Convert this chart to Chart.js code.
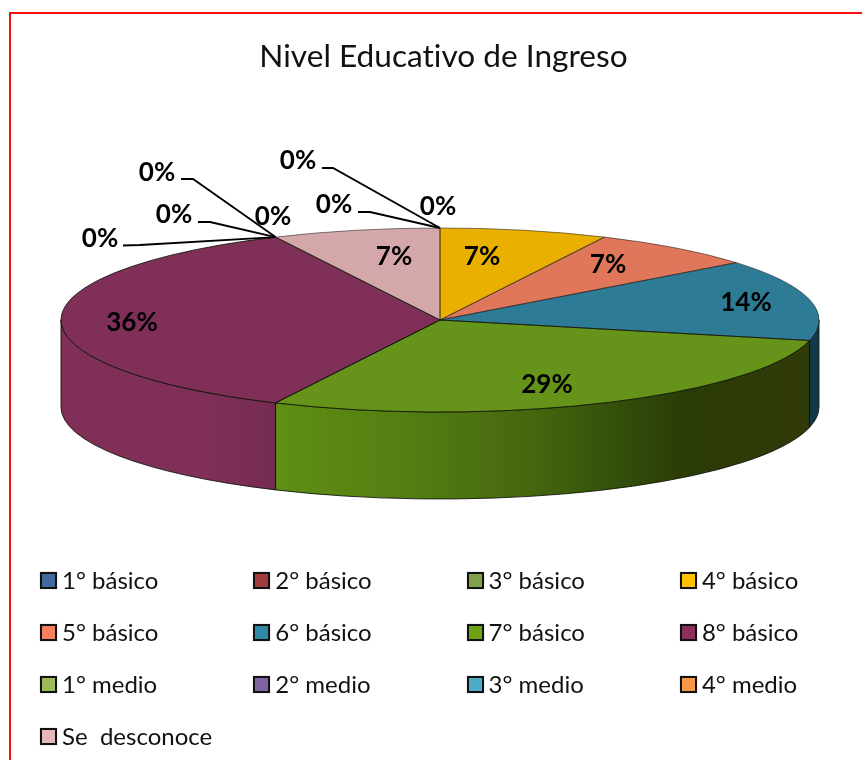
<!DOCTYPE html>
<html lang="es">
<head>
<meta charset="utf-8">
<style>
  html, body { margin: 0; padding: 0; background: #fff; width: 862px; height: 760px; overflow: hidden; }
  #wrap { position: relative; width: 862px; height: 760px; }
  #c { position: absolute; left: 0; top: 0; }
  #frameTop { position: absolute; left: 9px; top: 12px; width: 853px; height: 2px; background: #ff0d0d; }
  #frameLeft { position: absolute; left: 9px; top: 12px; width: 2px; height: 748px; background: #ff0d0d; }
  .lg { position: absolute; height: 30px; font: 24px/30px Lato, sans-serif; color: #111; white-space: pre; font-variant-ligatures: none; }
  .lg i { position: absolute; left: 0; top: 7px; width: 13px; height: 13px; border: 2px solid #111; box-shadow: 0 0 1px #999; }
  .lg span { position: absolute; left: 22px; top: 0; }
</style>
</head>
<body>
<div id="wrap">
  <canvas id="c" width="862" height="760"></canvas>
  <div id="frameTop"></div>
  <div id="frameLeft"></div>
  <div id="legend"></div>
</div>
<script src="https://cdn.jsdelivr.net/npm/chart.js@4/dist/chart.umd.min.js"></script>
<script>
const categories = ['1° básico','2° básico','3° básico','4° básico','5° básico','6° básico','7° básico','8° básico','1° medio','2° medio','3° medio','4° medio','Se  desconoce'];
const counts = [0,0,0,1,1,2,4,5,0,0,0,0,1];
const topColors = ['#3f6797','#98393a','#7c974a','#e9b000','#e0775a','#2e7b96','#66941a','#7f2f58','#98b958','#7b5fa1','#45a5c3','#f59443','#d4a8aa'];
const legendColors = ['#41699b','#9e3d3b','#80a04c','#ffc000','#f57f5f','#2f88a4','#6ea212','#8b2f5e','#9bbb59','#8064a2','#4bacc6','#f79646','#e6b9b8'];
const wallStops = {
  5: [[0,'#12394a'],[1,'#12394a']],
  6: [[0,'#5f8f14'],[0.23,'#557f12'],[0.48,'#45670f'],[0.68,'#2f4a09'],[0.76,'#2b3c06'],[1,'#303a08']],
  7: [[0,'#7f2f58'],[0.7,'#7f2f58'],[1,'#752b51']]
};

const labelSpots = [
  {x:438,y:207},{x:334,y:205},{x:298,y:161},
  {x:482,y:257},{x:608,y:265},{x:746,y:303},{x:547,y:385},{x:132,y:323},
  {x:100,y:239},{x:174,y:215},{x:157,y:173},{x:273,y:217},
  {x:394,y:257}
];
const leaders = {
  1:[[358,212],[370,212]],
  2:[[322,168],[333,168]],
  8:[[123,245.5],[140,245]],
  9:[[198,222],[210,222]],
  10:[[181,179],[193,179]]
};
const pie = { cx:440, cy:320, rx:379, ry:92, depth:87 };

const total = counts.reduce((a,b)=>a+b,0);
const lg = document.getElementById('legend');
categories.forEach((name,i)=>{
  const d = document.createElement('div');
  d.className = 'lg';
  d.style.left = (40 + (i%4)*213.3) + 'px';
  d.style.top = (565 + Math.floor(i/4)*52) + 'px';
  const box = document.createElement('i');
  box.style.background = legendColors[i];
  const t = document.createElement('span');
  t.textContent = name;
  d.append(box,t);
  lg.appendChild(d);
});

const pie3d = {
  id:'pie3d',
  beforeDraw(chart){
    chart.ctx.letterSpacing = '0.01px';
  },
  beforeDatasetsDraw(chart){
    const ctx = chart.ctx;
    const arcs = chart.getDatasetMeta(0).data;
    const {cx,cy,rx,ry,depth} = pie;
    arcs.forEach((arc,i)=>{
      const a0 = Math.max(arc.startAngle,0), a1 = Math.min(arc.endAngle,Math.PI);
      if(a1<=a0 || !wallStops[i]) return;
      const xa = cx+rx*Math.cos(a1), xb = cx+rx*Math.cos(a0);
      const g = ctx.createLinearGradient(xa,0,xb,0);
      wallStops[i].forEach(s=>g.addColorStop(s[0],s[1]));
      ctx.beginPath();
      ctx.ellipse(cx,cy,rx,ry,0,a0,a1,false);
      ctx.ellipse(cx,cy+depth,rx,ry,0,a1,a0,true);
      ctx.closePath();
      ctx.fillStyle = g;
      ctx.fill();
      ctx.strokeStyle = 'rgba(10,15,5,0.85)';
      ctx.lineWidth = 1;
      ctx.stroke();
    });
    ctx.save();
    ctx.translate(cx,cy);
    ctx.scale(1,ry/rx);
    const a = arcs[0];
    ctx.translate(-a.x,-a.y);
  },
  afterDatasetsDraw(chart){
    const ctx = chart.ctx;
    ctx.restore();
    const arcs = chart.getDatasetMeta(0).data;
    const {cx,cy,rx,ry} = pie;
    ctx.lineWidth = 1;
    arcs.forEach((arc,i)=>{
      if(counts[i]===0) return;
      const front = i===6 || i===7;
      ctx.beginPath();
      ctx.moveTo(cx,cy);
      ctx.ellipse(cx,cy,rx,ry,0,arc.startAngle,arc.endAngle,false);
      ctx.closePath();
      ctx.strokeStyle = front ? 'rgba(15,20,5,0.85)' : 'rgba(30,30,30,0.55)';
      ctx.stroke();
    });
    ctx.strokeStyle = '#000';
    ctx.lineWidth = 1.8;
    Object.keys(leaders).forEach(k=>{
      const arc = arcs[k];
      const pts = leaders[k];
      const ang = arc.endAngle;
      ctx.beginPath();
      ctx.moveTo(pts[0][0],pts[0][1]);
      ctx.lineTo(pts[1][0],pts[1][1]);
      ctx.lineTo(cx+rx*Math.cos(ang),cy+ry*Math.sin(ang));
      ctx.stroke();
    });
    ctx.fillStyle = '#000';
    ctx.font = 'bold 26px Lato, sans-serif';
    ctx.textAlign = 'center';
    ctx.textBaseline = 'middle';
    counts.forEach((v,i)=>{
      ctx.fillText(Math.round(v/total*100)+'%',labelSpots[i].x,labelSpots[i].y);
    });
  }
};

new Chart(document.getElementById('c'),{
  type:'pie',
  data:{
    labels:categories,
    datasets:[{data:counts,backgroundColor:topColors,borderWidth:0,clip:false}]
  },
  options:{
    responsive:false,
    animation:false,
    radius:379,
    layout:{padding:{left:25}},
    plugins:{
      legend:{display:false},
      tooltip:{enabled:false},
      title:{
        display:true,
        text:'Nivel Educativo de Ingreso',
        color:'#111',
        font:{family:'Lato, sans-serif',size:31.6,weight:'normal'},
        padding:{top:38,bottom:0}
      }
    }
  },
  plugins:[pie3d]
});
</script>
</body>
</html>
